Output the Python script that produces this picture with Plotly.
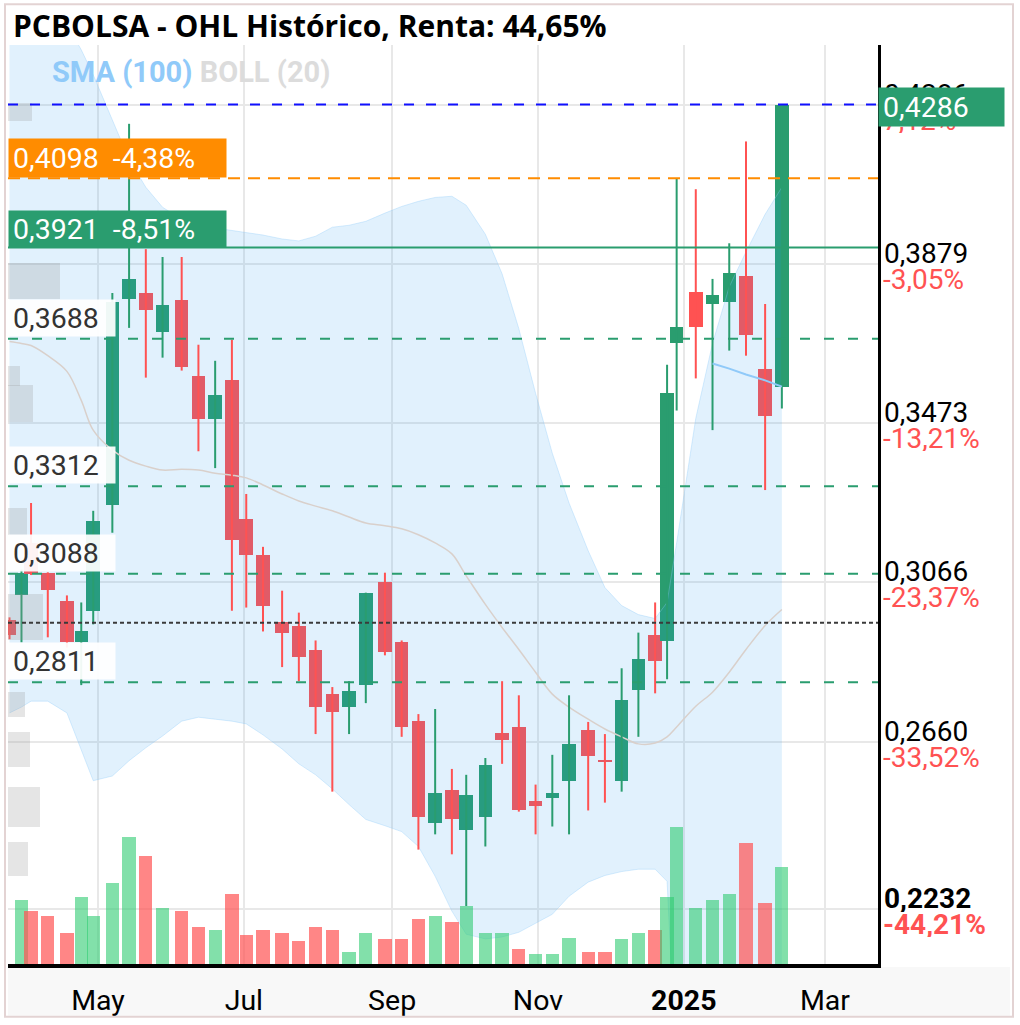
import plotly.graph_objects as go

# ---------------- data (weekly candles) ----------------
dates = ["2024-03-25", "2024-03-30", "2024-04-03", "2024-04-10", "2024-04-18", "2024-04-24",
         "2024-04-29", "2024-05-07", "2024-05-14", "2024-05-21", "2024-05-28", "2024-06-05",
         "2024-06-12", "2024-06-19", "2024-06-26", "2024-07-02", "2024-07-09", "2024-07-17",
         "2024-07-24", "2024-07-31", "2024-08-07", "2024-08-14", "2024-08-21", "2024-08-29",
         "2024-09-05", "2024-09-12", "2024-09-19", "2024-09-26", "2024-10-02", "2024-10-10",
         "2024-10-17", "2024-10-24", "2024-10-31", "2024-11-07", "2024-11-14", "2024-11-22",
         "2024-11-29", "2024-12-06", "2024-12-13", "2024-12-20", "2024-12-25", "2024-12-29",
         "2025-01-06", "2025-01-13", "2025-01-20", "2025-01-27", "2025-02-04", "2025-02-11"]

opens = [0.2969, 0.3035, 0.3167, 0.3091, 0.3020, 0.2913, 0.2994, 0.3264, 0.3790, 0.3805,
         0.3706, 0.3787, 0.3592, 0.3483, 0.3584, 0.3228, 0.3137, 0.2966, 0.2956, 0.2893,
         0.2781, 0.2748, 0.2804, 0.3068, 0.2913, 0.2712, 0.2453, 0.2537, 0.2433, 0.2468,
         0.2682, 0.2697, 0.2509, 0.2517, 0.2560, 0.2689, 0.2613, 0.2560, 0.2791, 0.2933,
         0.2916, 0.3678, 0.3808, 0.3777, 0.3782, 0.3849, 0.3612, 0.3566]
highs = [0.2977, 0.3099, 0.3269, 0.3092, 0.3033, 0.3015, 0.3249, 0.3805, 0.4237, 0.3917,
         0.3897, 0.3897, 0.3673, 0.3632, 0.3686, 0.3292, 0.3157, 0.3045, 0.2989, 0.2918,
         0.2799, 0.2814, 0.3040, 0.3091, 0.2918, 0.2730, 0.2743, 0.2590, 0.2575, 0.2618,
         0.2814, 0.2778, 0.2550, 0.2626, 0.2778, 0.2710, 0.2679, 0.2847, 0.2938, 0.3015,
         0.3622, 0.4098, 0.4070, 0.3841, 0.3932, 0.4192, 0.3777, 0.4286]
lows = [0.2921, 0.2913, 0.3085, 0.2926, 0.2900, 0.2804, 0.2959, 0.3193, 0.3716, 0.3589,
        0.3640, 0.3607, 0.3401, 0.3358, 0.2994, 0.3002, 0.2941, 0.2850, 0.2814, 0.2679,
        0.2532, 0.2679, 0.2758, 0.2880, 0.2672, 0.2384, 0.2423, 0.2372, 0.2240, 0.2392,
        0.2603, 0.2481, 0.2423, 0.2443, 0.2423, 0.2484, 0.2504, 0.2532, 0.2672, 0.2783,
        0.2819, 0.3505, 0.3587, 0.3455, 0.3658, 0.3645, 0.3302, 0.3510]
closes = [0.2931, 0.3091, 0.3088, 0.3048, 0.2913, 0.2941, 0.3223, 0.3782, 0.3841, 0.3762,
          0.3775, 0.3615, 0.3483, 0.3544, 0.3175, 0.3137, 0.3007, 0.2936, 0.2875, 0.2748,
          0.2735, 0.2789, 0.3040, 0.2888, 0.2697, 0.2468, 0.2529, 0.2461, 0.2524, 0.2600,
          0.2664, 0.2486, 0.2496, 0.2529, 0.2654, 0.2623, 0.2608, 0.2766, 0.2870, 0.2866,
          0.3551, 0.3719, 0.3719, 0.3800, 0.3856, 0.3699, 0.3490, 0.4286]
volumes = [None, 16.0, 13.3, 12.0, 7.8, 16.8, 12.0, 20.3, 31.8, 27.0,
           14.0, 13.3, 9.3, 8.5, 17.5, 7.3, 8.5, 7.8, 5.8, 9.3,
           8.5, 3.0, 7.8, 6.3, 6.3, 11.3, 12.0, 10.5, 14.5, 7.8,
           7.8, 3.8, 2.5, 2.5, 6.5, 3.0, 3.0, 6.3, 7.8, 8.5,
           16.8, 34.5, 14.0, 16.0, 17.5, 30.5, 15.3, 24.3]

boll_upper = [0.4654, 0.4616, 0.4591, 0.4540, 0.4489, 0.4426, 0.4362, 0.4248, 0.4146, 0.4075,
              0.4024, 0.3993, 0.3978, 0.3971, 0.3965, 0.3960, 0.3953, 0.3943, 0.3938, 0.3950,
              0.3973, 0.3978, 0.3988, 0.4009, 0.4026, 0.4039, 0.4049, 0.4052, 0.4029, 0.3955,
              0.3854, 0.3714, 0.3549, 0.3396, 0.3269, 0.3147, 0.3053, 0.3007, 0.2984, 0.2974,
              0.3015, 0.3167, 0.3485, 0.3676, 0.3821, 0.3910, 0.4006, 0.4075]
boll_mid = [0.3681, 0.3676, 0.3671, 0.3645, 0.3605, 0.3531, 0.3455, 0.3404, 0.3378, 0.3363,
            0.3353, 0.3355, 0.3353, 0.3345, 0.3340, 0.3333, 0.3315, 0.3292, 0.3274, 0.3261,
            0.3249, 0.3233, 0.3218, 0.3211, 0.3203, 0.3188, 0.3167, 0.3139, 0.3083, 0.3010,
            0.2951, 0.2895, 0.2837, 0.2781, 0.2748, 0.2717, 0.2692, 0.2672, 0.2654, 0.2656,
            0.2672, 0.2697, 0.2750, 0.2786, 0.2837, 0.2895, 0.2956, 0.2997]
boll_lower = [0.2733, 0.2748, 0.2763, 0.2763, 0.2733, 0.2636, 0.2560, 0.2572, 0.2611, 0.2644,
              0.2674, 0.2712, 0.2722, 0.2717, 0.2712, 0.2705, 0.2677, 0.2641, 0.2603, 0.2575,
              0.2539, 0.2499, 0.2461, 0.2445, 0.2430, 0.2392, 0.2316, 0.2227, 0.2168, 0.2156,
              0.2161, 0.2173, 0.2196, 0.2219, 0.2265, 0.2301, 0.2318, 0.2328, 0.2334, 0.2334,
              0.2303, 0.1807, 0.2016, 0.1896, 0.1853, 0.1881, 0.1907, 0.1919]
sma100 = [None] * 43 + [0.3625, 0.3612, 0.3597, 0.3582, 0.3566]

# volume profile (left side, by price)
profile_price = [0.4267, 0.3836, 0.3594, 0.3523, 0.3222, 0.2977, 0.2754, 0.2640, 0.2494, 0.2360]
profile_height = [0.0048, 0.0092, 0.0051, 0.0092, 0.0069, 0.0117, 0.0064, 0.0089, 0.0102, 0.0089]
profile_volume = [2.8, 6.0, 1.4, 2.9, 2.2, 4.0, 2.0, 2.5, 3.7, 2.3]

# reference levels
last_price = 0.4286
start_price = 0.2963
level_orange = 0.4098
level_green = 0.3921
support_levels = [0.3688, 0.3312, 0.3088, 0.2811]
support_labels = ["0,3688", "0,3312", "0,3088", "0,2811"]
axis_values = [0.4286, 0.3879, 0.3473, 0.3066, 0.2660, 0.2232]
axis_labels = ["0,4286", "0,3879", "0,3473", "0,3066", "0,2660", "0,2232"]
axis_pcts = ["7,12%", "-3,05%", "-13,21%", "-23,37%", "-33,52%", "-44,21%"]

month_ticks = ["2024-05-01", "2024-07-01", "2024-09-01", "2024-11-01", "2025-01-01", "2025-03-01"]
month_text = ["May", "Jul", "Sep", "Nov", "<b>2025</b>", "Mar"]

# ---------------- styling ----------------
GREEN = "#2a9d6f"
RED = "#ff5252"
DAY_MS = 86400000
BODY_W = 5.65 * DAY_MS
VOL_W = 5.55 * DAY_MS
FONT = "Roboto"

up = [c >= o for o, c in zip(opens, closes)]
body_colors = [GREEN if u else RED for u in up]
vol_colors = []
for i, c in enumerate(closes):
    prev = closes[i - 1] if i > 0 else opens[0]
    vol_colors.append("rgba(46,204,113,0.6)" if c >= prev else "rgba(255,82,82,0.7)")

fig = go.Figure()

# Bollinger band
fig.add_trace(go.Scatter(x=dates, y=boll_upper, mode="lines",
                         line=dict(color="rgba(144,202,249,0.35)", width=1),
                         hoverinfo="skip", showlegend=False))
fig.add_trace(go.Scatter(x=dates, y=boll_lower, mode="lines", fill="tonexty",
                         fillcolor="rgba(33,150,243,0.135)",
                         line=dict(color="rgba(144,202,249,0.35)", width=1),
                         hoverinfo="skip", showlegend=False))
fig.add_trace(go.Scatter(x=dates, y=boll_mid, mode="lines",
                         line=dict(color="#d9d0cb", width=1.5, shape="spline"),
                         hoverinfo="skip", showlegend=False))

# volume profile
fig.add_trace(go.Bar(y=profile_price, x=profile_volume, width=profile_height, orientation="h",
                     xaxis="x3", yaxis="y", marker=dict(color="rgba(150,150,150,0.25)", line=dict(width=0)),
                     hoverinfo="skip", showlegend=False))

# volume
fig.add_trace(go.Bar(x=dates, y=volumes, yaxis="y2", width=VOL_W,
                     marker=dict(color=vol_colors, line=dict(width=0)),
                     hoverinfo="skip", showlegend=False))

# wicks
for flag, col in ((True, GREEN), (False, RED)):
    wx, wy = [], []
    for d, h, l, u in zip(dates, highs, lows, up):
        if u == flag:
            wx += [d, d, None]
            wy += [l, h, None]
    fig.add_trace(go.Scatter(x=wx, y=wy, mode="lines", line=dict(color=col, width=2),
                             hoverinfo="skip", showlegend=False))

# bodies
fig.add_trace(go.Bar(x=dates, y=[max(abs(c - o), 0.0004) for o, c in zip(opens, closes)],
                     base=[min(o, c) for o, c in zip(opens, closes)], width=BODY_W,
                     marker=dict(color=body_colors, line=dict(width=0)),
                     hoverinfo="skip", showlegend=False))

# SMA 100
fig.add_trace(go.Scatter(x=dates, y=sma100, mode="lines",
                         line=dict(color="#90caf9", width=2),
                         hoverinfo="skip", showlegend=False))

shapes = []
def hline(y, color, dash, width=2):
    shapes.append(dict(type="line", xref="paper", x0=0, x1=1, yref="y", y0=y, y1=y,
                       line=dict(color=color, width=width, dash=dash), layer="above"))

hline(last_price, "#1010ff", "10px,12px")
hline(level_orange, "#ff8c00", "12px,8px")
hline(level_green, GREEN, "solid")
for lv in support_levels:
    hline(lv, GREEN, "10px,14px")
hline(start_price, "#3a3a3a", "4px,3px")

# x label strip and frame
shapes.append(dict(type="rect", xref="paper", yref="paper", x0=0, x1=(1010 - 8) / 870,
                   y0=-(1020 - 968) / 923, y1=-3 / 923, fillcolor="#f8f8f8",
                   line=dict(width=0), layer="below"))
shapes.append(dict(type="rect", xref="paper", yref="paper", x0=-3 / 870, x1=(1013 - 8) / 870,
                   y0=-(1021 - 968) / 923, y1=(968 - 4) / 923,
                   line=dict(color="#e3d3d3", width=2), layer="above"))

ann = []
# title
ann.append(dict(xref="paper", yref="paper", x=0, xshift=3, y=1 + 20 / 923, xanchor="left",
                yanchor="middle", showarrow=False,
                text="<b>PCBOLSA - OHL Histórico, Renta: 44,65%</b>",
                font=dict(family="Open Sans", size=30, color="#000")))
# legend
ann.append(dict(xref="paper", yref="paper", x=(50 - 8) / 870, y=(968 - 72) / 923, xanchor="left",
                yanchor="middle", showarrow=False,
                text="<b><span style='color:#90caf9'>SMA (100)</span> "
                     "<span style='color:#dcdcdc'>BOLL (20)</span></b>",
                font=dict(family=FONT, size=29)))
# left coloured labels
ann.append(dict(xref="paper", yref="y", x=0, y=level_orange, xanchor="left", yanchor="bottom",
                showarrow=False, text="0,4098&nbsp;&nbsp;-4,38%", align="left",
                bgcolor="#ff8c00", borderpad=4, width=209, height=30,
                font=dict(family=FONT, size=28.5, color="white")))
ann.append(dict(xref="paper", yref="y", x=0, y=level_green, xanchor="left", yanchor="bottom",
                showarrow=False, text="0,3921&nbsp;&nbsp;-8,51%", align="left",
                bgcolor=GREEN, borderpad=4, width=209, height=28,
                font=dict(family=FONT, size=28.5, color="white")))
for lv, lab in zip(support_levels, support_labels):
    ann.append(dict(xref="paper", yref="y", x=0, y=lv, yshift=2, xanchor="left", yanchor="bottom",
                    showarrow=False, text=lab, align="left",
                    bgcolor="rgba(255,255,255,0.93)", borderpad=4, width=98, height=28,
                    font=dict(family=FONT, size=28.5, color="#333")))
# right axis labels (value above the grid line, change below)
for i, (v, lab, pct) in enumerate(zip(axis_values, axis_labels, axis_pcts)):
    b0, b1 = ("<b>", "</b>") if i == len(axis_values) - 1 else ("", "")
    ann.append(dict(xref="paper", yref="y", x=1, xshift=4, y=v, yshift=11, xanchor="left",
                    yanchor="middle", showarrow=False, text=b0 + lab + b1, height=28,
                    font=dict(family=FONT, size=28, color="#000")))
    ann.append(dict(xref="paper", yref="y", x=1, xshift=3, y=v, yshift=-15, xanchor="left",
                    yanchor="middle", showarrow=False, text=b0 + pct + b1, height=26,
                    font=dict(family=FONT, size=28, color=RED)))
ann.append(dict(xref="paper", yref="y", x=1, y=last_price, yshift=-2, xanchor="left",
                yanchor="middle", showarrow=False, text="0,4286", align="left",
                bgcolor=GREEN, borderpad=4, width=117, height=30,
                font=dict(family=FONT, size=28.5, color="white")))

fig.update_layout(
    width=1020, height=1025,
    margin=dict(l=8, r=142, t=45, b=57),
    paper_bgcolor="white", plot_bgcolor="white",
    font=dict(family=FONT, size=28, color="#000"),
    barmode="overlay", bargap=0, showlegend=False,
    xaxis=dict(type="date", range=["2024-03-24 08:40", "2025-03-23 05:00"],
               tickvals=month_ticks, ticktext=month_text,
               tickfont=dict(family=FONT, size=28.5, color="#000"),
               showgrid=True, gridcolor="#e8e8e8", gridwidth=2,
               showline=True, linecolor="#000", linewidth=4,
               ticks="outside", ticklen=8, tickcolor="rgba(0,0,0,0)",
               zeroline=False, fixedrange=True),
    xaxis3=dict(overlaying="x", range=[0, 100], visible=False, fixedrange=True),
    yaxis=dict(range=[0.20920, 0.44382], side="right", tickvals=axis_values,
               showticklabels=False, showgrid=True, gridcolor="#e8e8e8", gridwidth=2,
               showline=True, linecolor="#000", linewidth=3, zeroline=False, fixedrange=True),
    yaxis2=dict(overlaying="y", range=[0, 230.75], visible=False, fixedrange=True),
    shapes=shapes, annotations=ann,
)

fig.write_html("out.html")
